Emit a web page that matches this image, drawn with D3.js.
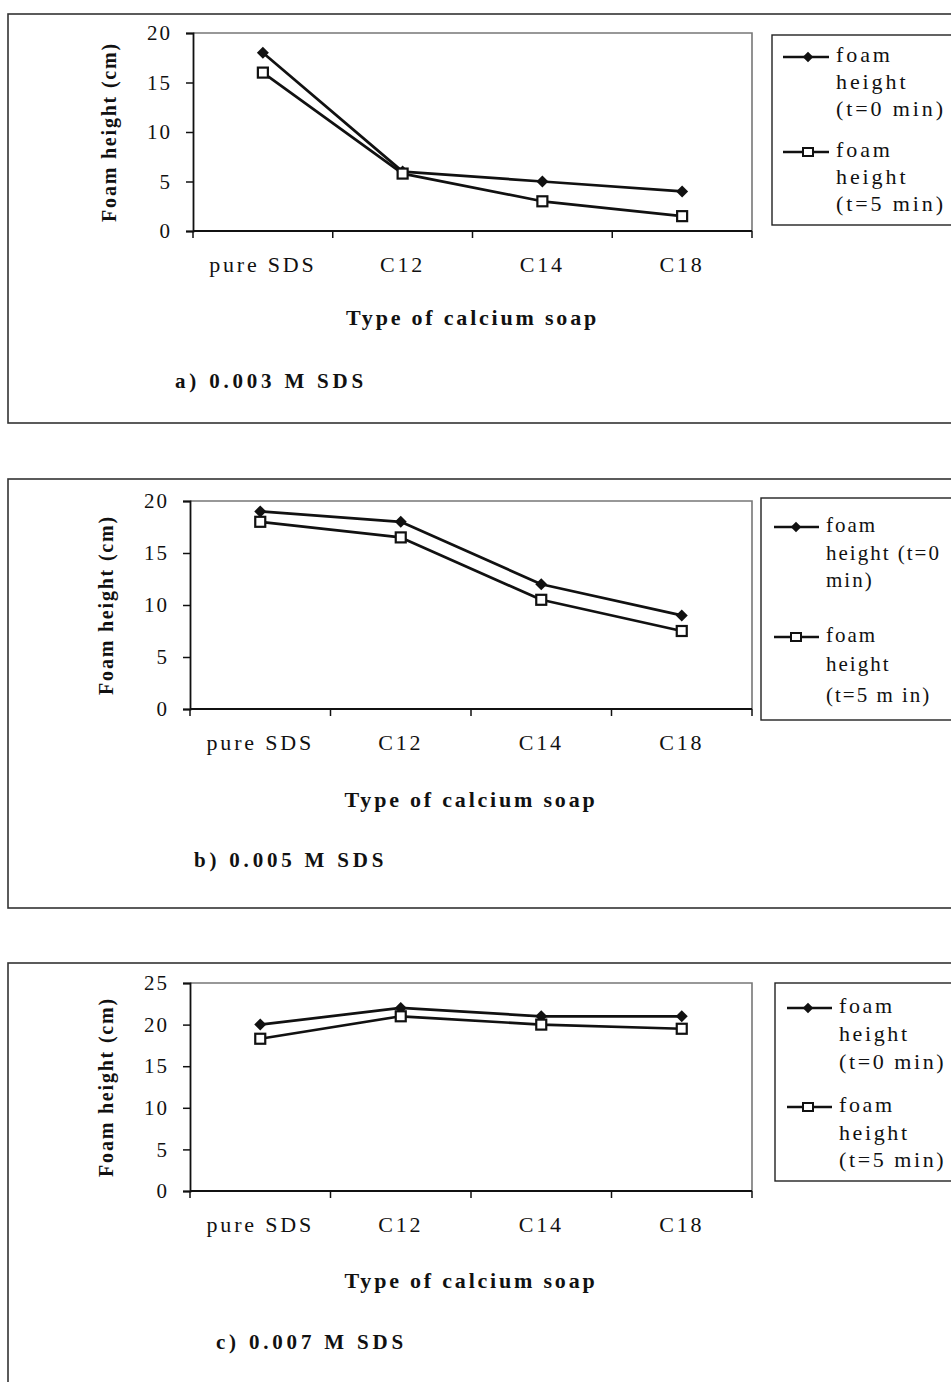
<!DOCTYPE html>
<html>
<head>
<meta charset="utf-8">
<script src="https://cdn.jsdelivr.net/npm/d3@7"></script>
<style>
  html, body { margin: 0; padding: 0; background: #fff; }
  svg { display: block; }
  text { font-family: "Liberation Serif", "Times New Roman", serif; fill: #111; }
</style>
</head>
<body>
<svg id="chart" width="951" height="1382"></svg>
<script>
// ---------- data ----------
const categories = ["pure SDS", "C12", "C14", "C18"];
const seriesNames = ["foam height (t=0 min)", "foam height (t=5 min)"];

const t0_a = [18, 6, 5, 4];
const t5_a = [16, 5.8, 3, 1.5];
const t0_b = [19, 18, 12, 9];
const t5_b = [18, 16.5, 10.5, 7.5];
const t0_c = [20, 22, 21, 21];
const t5_c = [18.3, 21, 20, 19.5];

const yTicks_a = [0, 5, 10, 15, 20];
const yTicks_b = [0, 5, 10, 15, 20];
const yTicks_c = [0, 5, 10, 15, 20, 25];

const panelLabels = ["a) 0.003 M SDS", "b) 0.005 M SDS", "c) 0.007 M SDS"];
const xTitle = "Type of calcium soap";
const yTitle = "Foam height (cm)";

const legendLines_a = [["foam", "height", "(t=0 min)"], ["foam", "height", "(t=5 min)"]];
const legendLines_b = [["foam", "height (t=0", "min)"], ["foam", "height", "(t=5 m in)"]];
const legendLines_c = [["foam", "height", "(t=0 min)"], ["foam", "height", "(t=5 min)"]];

// ---------- layout ----------
const panels = [
  { t0: t0_a, t5: t5_a, yTicks: yTicks_a, legend: legendLines_a, label: panelLabels[0],
    box: [8, 14, 423], plot: [193, 752, 33, 231],
    leg: { x: 772, y: 35, y2: 225, lx1: 783, lx2: 829, mx: 808, tx: 836, fs: 22, ls: 2.9,
           ty: [[57, 84, 111], [152, 179, 206]] },
    tickY: 267, titleY: 320, labelX: 175, labelY: 383, yTitleX: 111 },
  { t0: t0_b, t5: t5_b, yTicks: yTicks_b, legend: legendLines_b, label: panelLabels[1],
    box: [8, 479, 908], plot: [190, 752, 501, 709],
    leg: { x: 761, y: 498, y2: 720, lx1: 774, lx2: 819, mx: 796, tx: 826, fs: 21, ls: 2.0,
           ty: [[527, 555, 582], [637, 666, 697]] },
    tickY: 745, titleY: 802, labelX: 194, labelY: 862, yTitleX: 108 },
  { t0: t0_c, t5: t5_c, yTicks: yTicks_c, legend: legendLines_c, label: panelLabels[2],
    box: [8, 963, 1395], plot: [190, 752, 983, 1191],
    leg: { x: 775, y: 983, y2: 1181, lx1: 787, lx2: 832, mx: 808, tx: 839, fs: 22, ls: 2.6,
           ty: [[1008, 1036, 1064], [1107, 1135, 1162]] },
    tickY: 1227, titleY: 1283, labelX: 216, labelY: 1344, yTitleX: 108 }
];

const svg = d3.select("#chart");

panels.forEach(p => {
  const g = svg.append("g");
  // outer frame
  g.append("rect")
    .attr("x", p.box[0]).attr("y", p.box[1])
    .attr("width", 1000).attr("height", p.box[2] - p.box[1])
    .attr("fill", "none").attr("stroke", "#333").attr("stroke-width", 1.6);

  const [x0, x1, yTop, yBot] = p.plot;
  const x = d3.scaleBand().domain(categories).range([x0, x1]).paddingInner(0).paddingOuter(0);
  const yMax = d3.max(p.yTicks);
  const y = d3.scaleLinear().domain([0, yMax]).range([yBot, yTop]);
  const cx = c => x(c) + x.bandwidth() / 2;

  // plot area border (top/right gray)
  g.append("path")
    .attr("d", `M${x0},${yTop}H${x1}V${yBot}`)
    .attr("fill", "none").attr("stroke", "#777").attr("stroke-width", 1.6);

  // y axis
  const yAxis = d3.axisLeft(y).tickValues(p.yTicks).tickSize(7).tickPadding(14).tickFormat(d3.format("d"));
  const ya = g.append("g").attr("transform", `translate(${x0},0)`).call(yAxis);
  ya.select(".domain").attr("stroke", "#111").attr("stroke-width", 1.8);
  ya.selectAll(".tick line").attr("stroke", "#111").attr("stroke-width", 1.5);
  ya.selectAll(".tick text").attr("font-size", 21).attr("letter-spacing", 2)
    .attr("font-family", "Liberation Serif").attr("fill", "#111");

  // x axis line
  g.append("line").attr("x1", x0).attr("x2", x1).attr("y1", yBot).attr("y2", yBot)
    .attr("stroke", "#111").attr("stroke-width", 1.8);
  // x ticks at band boundaries
  const bounds = categories.map(c => x(c)).concat([x1]);
  g.selectAll(".xt").data(bounds).enter().append("line")
    .attr("x1", d => d).attr("x2", d => d).attr("y1", yBot).attr("y2", yBot + 7)
    .attr("stroke", "#111").attr("stroke-width", 1.5);
  // x tick labels
  g.selectAll(".xl").data(categories).enter().append("text")
    .attr("x", d => cx(d)).attr("y", p.tickY)
    .attr("text-anchor", "middle").attr("dominant-baseline", "middle")
    .attr("font-size", 22).attr("letter-spacing", 2.8)
    .text(d => d);

  // axis titles
  g.append("text").attr("x", (x0 + x1) / 2).attr("y", p.titleY)
    .attr("text-anchor", "middle").attr("dominant-baseline", "middle")
    .attr("font-size", 22).attr("font-weight", "bold").attr("letter-spacing", 2.8)
    .text(xTitle);
  g.append("text")
    .attr("transform", `translate(${p.yTitleX},${(yTop + yBot) / 2}) rotate(-90)`)
    .attr("text-anchor", "middle").attr("dominant-baseline", "middle")
    .attr("font-size", 20).attr("font-weight", "bold").attr("letter-spacing", 1.8)
    .text(yTitle);

  // panel label
  g.append("text").attr("x", p.labelX).attr("y", p.labelY)
    .attr("dominant-baseline", "middle")
    .attr("font-size", 21).attr("font-weight", "bold").attr("letter-spacing", 3.8)
    .text(p.label);

  // series lines
  const line = d3.line().x((d, i) => cx(categories[i])).y(d => y(d));
  [p.t0, p.t5].forEach(s => {
    g.append("path").datum(s).attr("d", line)
      .attr("fill", "none").attr("stroke", "#111").attr("stroke-width", 2.7)
      .attr("stroke-linejoin", "round");
  });
  // markers
  g.selectAll(".m0").data(p.t0).enter().append("path")
    .attr("d", d3.symbol().type(d3.symbolSquare).size(72)())
    .attr("transform", (d, i) => `translate(${cx(categories[i])},${y(d)}) rotate(45)`)
    .attr("fill", "#111");
  g.selectAll(".m1").data(p.t5).enter().append("rect")
    .attr("x", (d, i) => cx(categories[i]) - 5)
    .attr("y", d => y(d) - 5)
    .attr("width", 10).attr("height", 10)
    .attr("fill", "#fff").attr("stroke", "#111").attr("stroke-width", 2.2);

  // legend
  const L = p.leg;
  g.append("rect").attr("x", L.x).attr("y", L.y).attr("width", 300).attr("height", L.y2 - L.y)
    .attr("fill", "#fff").attr("stroke", "#222").attr("stroke-width", 1.4);
  p.legend.forEach((lines, si) => {
    const ly = L.ty[si][0];
    g.append("line").attr("x1", L.lx1).attr("x2", L.lx2).attr("y1", ly).attr("y2", ly)
      .attr("stroke", "#111").attr("stroke-width", 2.4);
    if (si === 0) {
      g.append("path").attr("d", d3.symbol().type(d3.symbolSquare).size(56)())
        .attr("transform", `translate(${L.mx},${ly}) rotate(45)`).attr("fill", "#111");
    } else {
      g.append("rect").attr("x", L.mx - 5).attr("y", ly - 4).attr("width", 10).attr("height", 8)
        .attr("fill", "#fff").attr("stroke", "#111").attr("stroke-width", 2);
    }
    lines.forEach((t, li) => {
      g.append("text").attr("x", L.tx).attr("y", L.ty[si][li])
        .attr("dominant-baseline", "middle")
        .attr("font-size", L.fs).attr("letter-spacing", L.ls)
        .text(t);
    });
  });
});
</script>
</body>
</html>
